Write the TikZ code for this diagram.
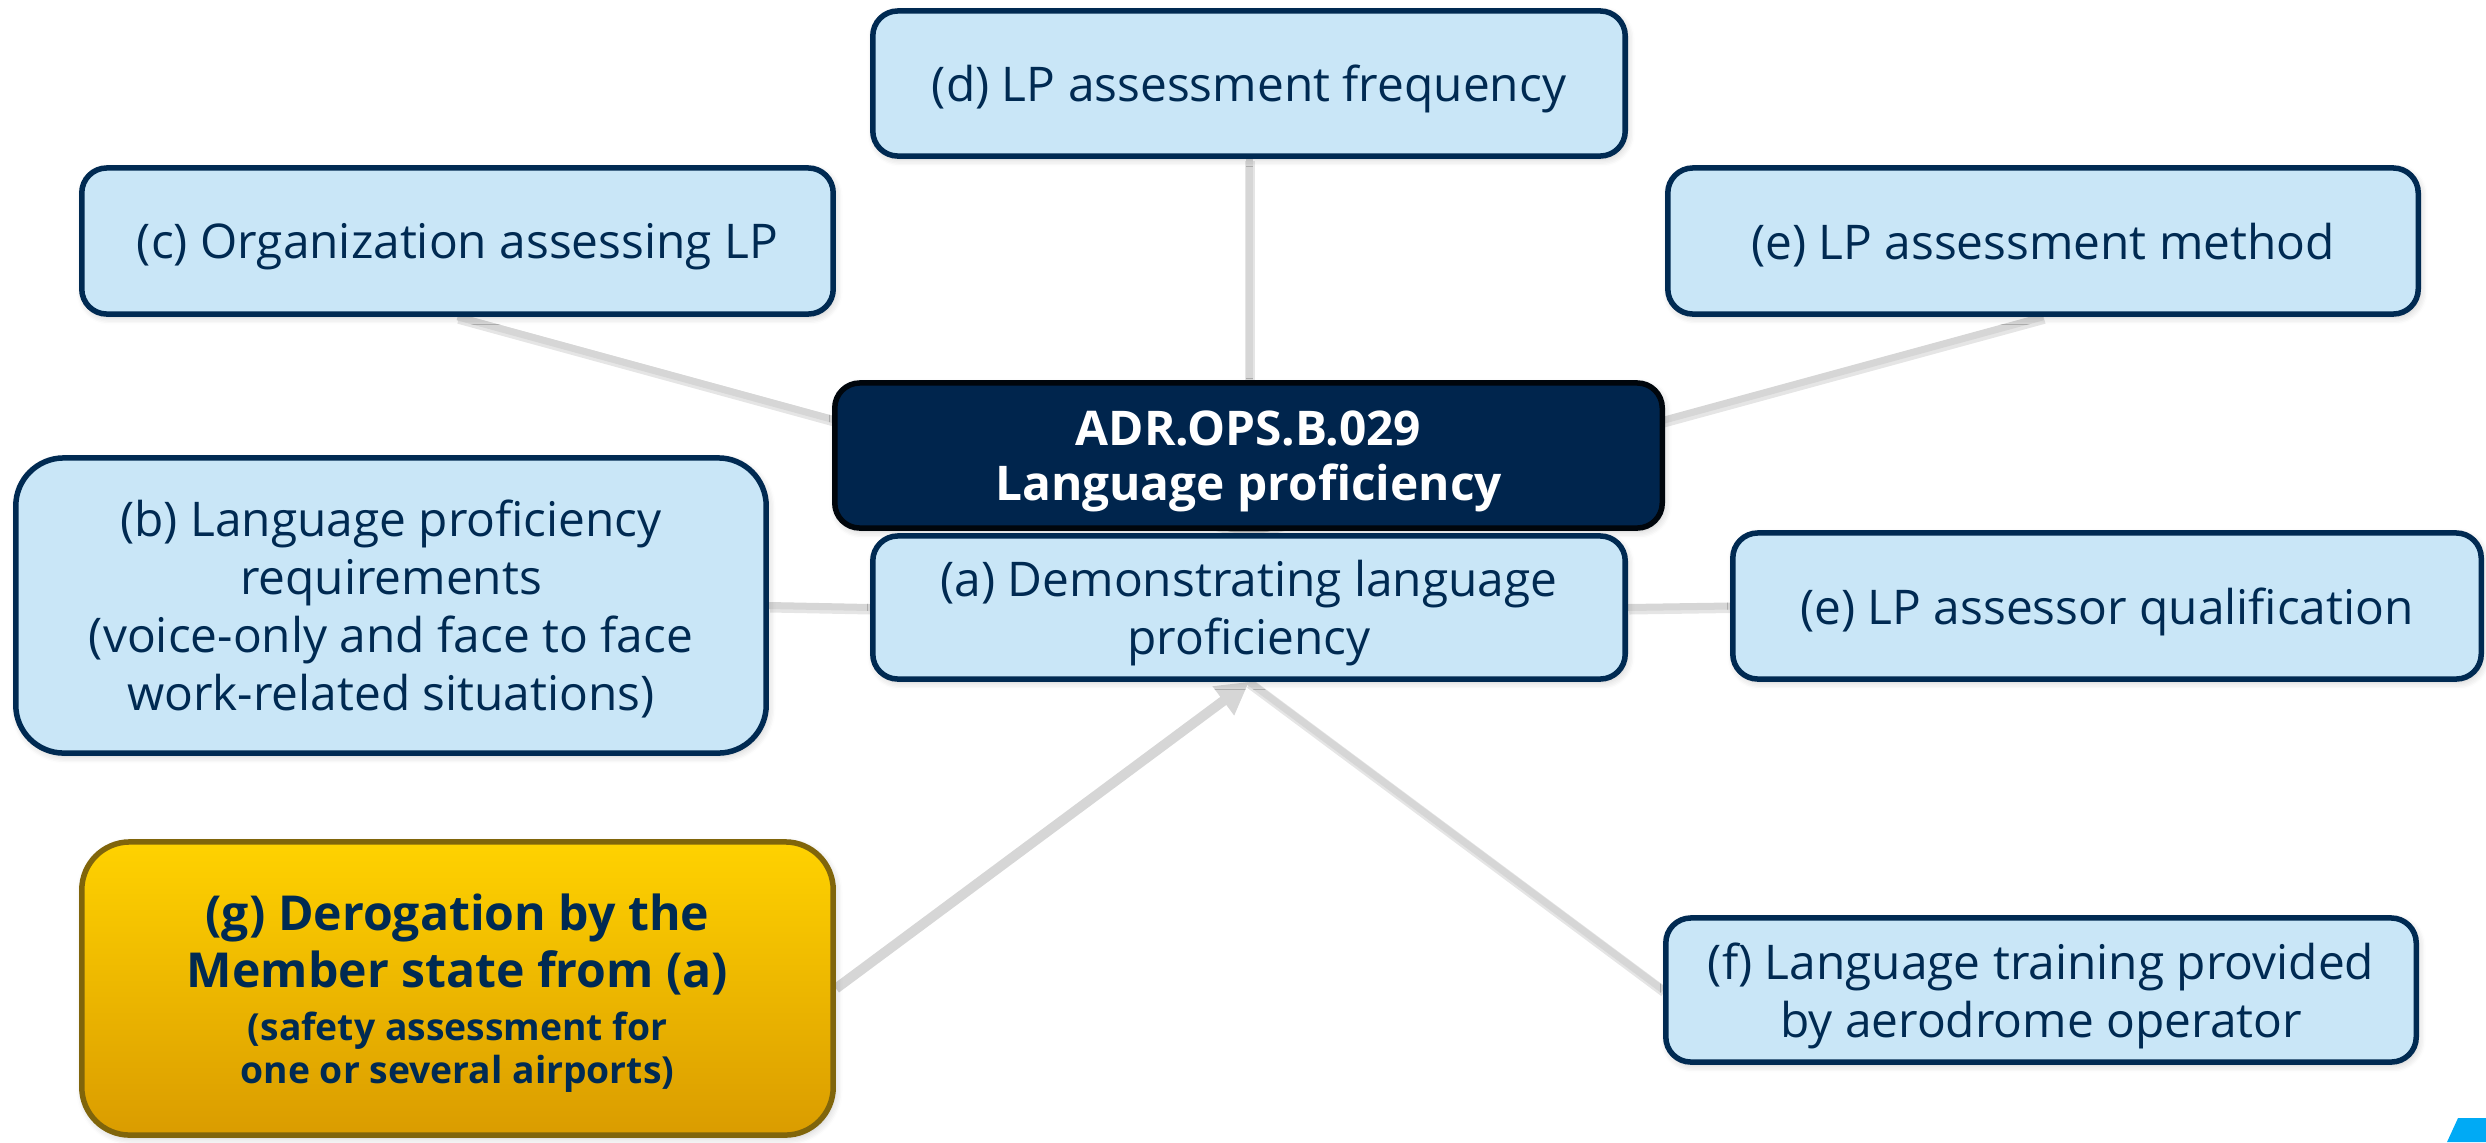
\documentclass[tikz,border=0pt]{standalone}
\usepackage{fontspec}
\setmainfont{Open Sans}
\usetikzlibrary{arrows.meta,shadows.blur,backgrounds}
\definecolor{navy}{HTML}{002A52}
\definecolor{lblue}{HTML}{C9E6F7}
\definecolor{darkbox}{HTML}{00254D}
\definecolor{ytop}{HTML}{FFD200}
\definecolor{ybot}{HTML}{DA9C00}
\definecolor{yborder}{HTML}{80650B}
\definecolor{conn}{HTML}{D6D6D6}
\definecolor{accent}{HTML}{00AAF5}
\newcommand{\gsmall}{\fontsize{10.6}{12.2}\selectfont}
\begin{document}
\begin{tikzpicture}[x=0.01cm,y=-0.01cm,
  shad/.style={blur shadow={shadow blur steps=6, shadow xshift=0.02cm, shadow yshift=-0.03cm, shadow opacity=22}},
  lbox/.style={shad, draw=navy, fill=lblue, line width=0.055cm, rounded corners=0.25cm, text=navy,
    align=center, inner sep=0pt, text depth=0pt, font=\fontsize{13.6}{16.5}\selectfont},
  tallbox/.style={lbox, rounded corners=0.48cm},
  hubbox/.style={shad, draw=black!85!navy, fill=darkbox, line width=0.055cm, rounded corners=0.25cm, text=white,
    align=center, inner sep=0pt, text depth=0pt, font=\bfseries\fontsize{13.6}{15.8}\selectfont},
  gbox/.style={shad, draw=yborder, top color=ytop, bottom color=ybot, line width=0.055cm, rounded corners=0.48cm,
    text=navy, align=center, inner sep=0pt, text depth=0pt, font=\bfseries\fontsize{13.7}{16.4}\selectfont},
  lshadow/.style={preaction={draw=black, draw opacity=0.10, line width=0.1cm,
    transform canvas={xshift=0.012cm, yshift=-0.02cm}}},
  connline/.style={lshadow, draw=conn, line width=0.07cm},
  connarrow/.style={draw=conn, line width=0.1cm, -{Triangle[length=0.32cm,width=0.34cm]}}
]
\useasboundingbox (0,0) rectangle (2486,1142);

\node[lbox, minimum width=7.52cm, minimum height=1.45cm] (d) at (1249,83.5) {(d) LP assessment frequency};
\node[lbox, minimum width=7.51cm, minimum height=1.46cm] (c) at (457.5,241) {(c) Organization assessing LP};
\node[lbox, minimum width=7.50cm, minimum height=1.46cm] (em) at (2043,241) {(e) LP assessment method};
\node[hubbox, minimum width=8.27cm, minimum height=1.45cm] (hub) at (1248.5,455.5) {ADR.OPS.B.029\\Language proficiency};
\node[lbox, minimum width=7.52cm, minimum height=1.43cm] (a) at (1249,607.5) {(a) Demonstrating language\\proficiency};
\node[tallbox, minimum width=7.50cm, minimum height=2.95cm] (b) at (391,605.5) {(b) Language proficiency\\requirements\\(voice-only and face to face\\work-related situations)};
\node[lbox, minimum width=7.48cm, minimum height=1.46cm] (ea) at (2107,606) {(e) LP assessor qualification};
\node[gbox, minimum width=7.51cm, minimum height=2.93cm] (g) at (457.5,988.5) {(g) Derogation by the\\Member state from (a)\\[-1.4pt]\gsmall (safety assessment for\\[-4.2pt]\gsmall one or several airports)};
\node[lbox, minimum width=7.50cm, minimum height=1.44cm] (f) at (2041,990) {(f) Language training provided\\by aerodrome operator};

\begin{pgfonlayer}{background}
  \draw[connline] (d.south) -- (a.north);
  \draw[connline] (c.south) -- (a.north);
  \draw[connline] (em.south) -- (a.north);
  \draw[connline] (b.east) -- (a.west);
  \draw[connline] (a.east) -- (ea.west);
  \draw[connline] (a.south) -- (f.west);
  \draw[connarrow] (g.east) -- (a.south);
\end{pgfonlayer}

\fill[accent] (2447,1142) -- (2458,1118) -- (2486,1118) -- (2486,1142) -- cycle;
\end{tikzpicture}
\end{document}
